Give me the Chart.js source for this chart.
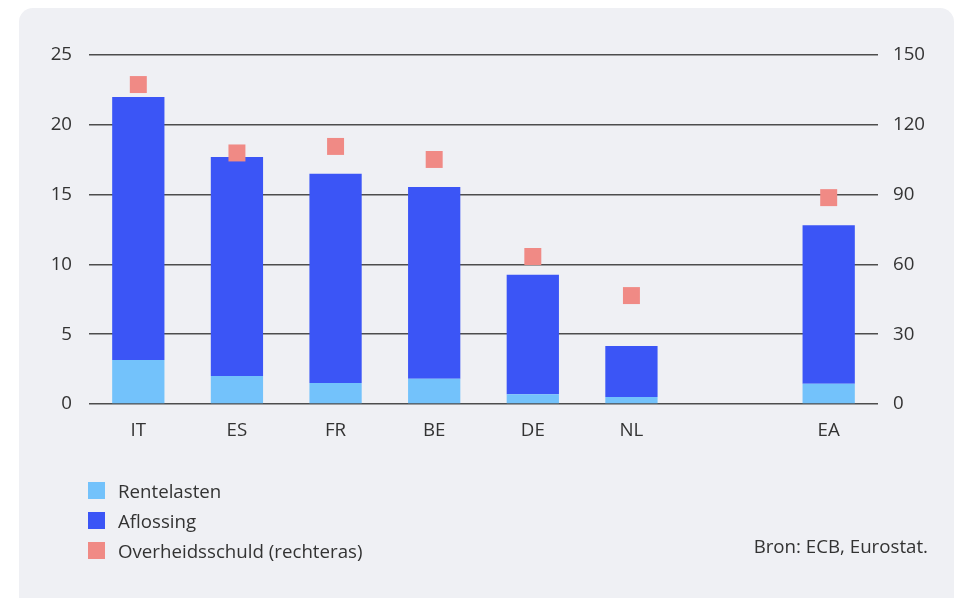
<!DOCTYPE html>
<html>
<head>
<meta charset="utf-8">
<script src="https://cdn.jsdelivr.net/npm/chart.js@4/dist/chart.umd.min.js"></script>
<style>
    html, body { margin: 0; padding: 0; background: #fff; }
    body { width: 955px; height: 598px; position: relative; overflow: hidden; font-family: "Open Sans", "Noto Sans", sans-serif; }
    .card { position: absolute; left: 19px; top: 8px; width: 935px; height: 620px; background: #eff0f4; border-radius: 14px; }
    #chart { position: absolute; left: 0; top: 0; }
    .legend { position: absolute; left: 88px; top: 475px; color: #333; font-size: 18.7px; }
    .legend-item { height: 30px; display: flex; align-items: center; }
    .legend-item span.box { width: 17px; height: 17px; margin-right: 13px; display: inline-block; }
    .source { position: absolute; right: 27px; top: 533px; color: #333; font-size: 18.7px; }
</style>
</head>
<body>
<div class="card"></div>
<canvas id="chart" width="955" height="598"></canvas>
<div class="legend" id="legend"></div>
<div class="source">Bron: ECB, Eurostat.</div>
<script>
// Categories (empty slot between NL and EA)
const categories = ['IT', 'ES', 'FR', 'BE', 'DE', 'NL', '', 'EA'];

// Left axis (% bbp)
const rentelasten = [3.15, 2.0, 1.5, 1.8, 0.7, 0.5, null, 1.45];
const aflossing = [18.85, 15.7, 15.0, 13.75, 8.55, 3.65, null, 11.35];

// Right axis (% bbp)
const overheidsschuld = [137.3, 107.9, 110.7, 105.1, 63.4, 46.6, null, 88.7];

const leftTicks = [0, 5, 10, 15, 20, 25];
const rightTicks = [0, 30, 60, 90, 120, 150];

const colors = {
    rente: '#73c2fb',
    aflossing: '#3b55f6',
    schuld: '#f08a85'
};

const tickFont = { family: '"Open Sans", "Noto Sans", sans-serif', size: 18.7 };

const datasets = [
    {
        type: 'line',
        label: 'Overheidsschuld (rechteras)',
        data: overheidsschuld,
        yAxisID: 'y1',
        showLine: false,
        pointStyle: 'rect',
        pointRadius: 12,
        pointBackgroundColor: colors.schuld,
        pointBorderWidth: 0,
        backgroundColor: colors.schuld,
        order: 0
    },
    {
        type: 'bar',
        label: 'Rentelasten',
        data: rentelasten,
        backgroundColor: colors.rente,
        yAxisID: 'y',
        stack: 's',
        order: 1
    },
    {
        type: 'bar',
        label: 'Aflossing',
        data: aflossing,
        backgroundColor: colors.aflossing,
        yAxisID: 'y',
        stack: 's',
        order: 2
    }
];

const ctx = document.getElementById('chart').getContext('2d');
const chart = new Chart(ctx, {
    data: { labels: categories, datasets: datasets },
    options: {
        responsive: false,
        animation: false,
        maintainAspectRatio: false,
        layout: { padding: { left: 0, right: 0, top: 55, bottom: 154 } },
        datasets: {
            bar: { barPercentage: 1, categoryPercentage: 0.53 }
        },
        plugins: {
            legend: { display: false },
            tooltip: { enabled: false }
        },
        scales: {
            x: {
                stacked: true,
                grid: { display: false, drawTicks: false },
                border: { display: false },
                ticks: { color: '#333', font: tickFont, padding: 15, maxRotation: 0 },
                afterFit: function(scale) { scale.height = 40; }
            },
            y: {
                stacked: true,
                position: 'left',
                min: 0,
                max: 25,
                afterBuildTicks: function(scale) { scale.ticks = leftTicks.map(v => ({ value: v })); },
                grid: { color: '#4d4d4d', lineWidth: 1.5, drawTicks: false },
                border: { display: false },
                ticks: { color: '#333', font: tickFont, padding: 17 },
                afterFit: function(scale) { scale.width = 89; }
            },
            y1: {
                position: 'right',
                min: 0,
                max: 150,
                afterBuildTicks: function(scale) { scale.ticks = rightTicks.map(v => ({ value: v })); },
                grid: { display: false, drawTicks: false },
                border: { display: false },
                ticks: { color: '#333', font: tickFont, padding: 15 },
                afterFit: function(scale) { scale.width = 77; }
            }
        }
    }
});

// Legend built from the datasets (bars first, then the squares)
const legend = document.getElementById('legend');
[datasets[1], datasets[2], datasets[0]].forEach(ds => {
    const item = document.createElement('div');
    item.className = 'legend-item';
    const box = document.createElement('span');
    box.className = 'box';
    box.style.background = ds.backgroundColor;
    item.appendChild(box);
    item.appendChild(document.createTextNode(ds.label));
    legend.appendChild(item);
});
</script>
</body>
</html>
